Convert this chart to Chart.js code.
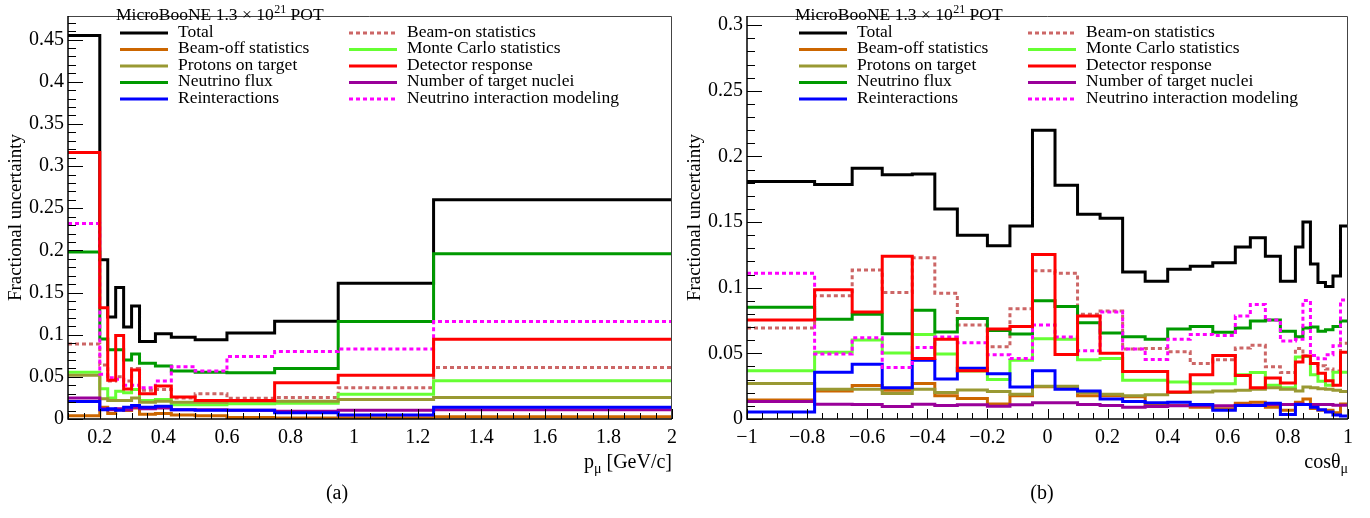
<!DOCTYPE html>
<html>
<head>
<meta charset="utf-8">
<title>Fractional uncertainties</title>
<script src="https://cdn.jsdelivr.net/npm/chart.js@4.4.1/dist/chart.umd.min.js"></script>
<style>
  body { margin: 0; background: #fff; }
  .panel { position: absolute; top: 0; width: 685px; height: 518px; }
  #panelA { left: 0; }
  #panelB { left: 685px; }
</style>
</head>
<body>
<div class="panel" id="panelA"><canvas id="chartA" width="685" height="518"></canvas></div>
<div class="panel" id="panelB"><canvas id="chartB" width="685" height="518"></canvas></div>
<script>
const FONT = '"Liberation Serif", "Times New Roman", serif';

// muon momentum bins (GeV/c)
const pEdges = [0.1, 0.2, 0.225, 0.25, 0.275, 0.3, 0.325, 0.375, 0.425, 0.5, 0.6, 0.75, 0.95, 1.25, 2];
const pTotal    = [0.455, 0.189, 0.121, 0.156, 0.109, 0.134, 0.092, 0.101, 0.097, 0.094, 0.102, 0.116, 0.161, 0.260];
const pBeamOn   = [0.089, 0.064, 0.045, 0.050, 0.045, 0.060, 0.034, 0.035, 0.025, 0.030, 0.0245, 0.0256, 0.037, 0.061];
const pBeamOff  = [0.004, 0.014, 0.0065, 0.011, 0.010, 0.013, 0.0057, 0.0065, 0.0046, 0.0038, 0.0019, 0.0011, 0.0015, 0.0027];
const pMcStat   = [0.0555, 0.036, 0.025, 0.033, 0.031, 0.035, 0.022, 0.023, 0.017, 0.017, 0.018, 0.0188, 0.0295, 0.0455];
const pPot      = [0.052, 0.024, 0.022, 0.022, 0.022, 0.025, 0.020, 0.021, 0.020, 0.020, 0.021, 0.021, 0.023, 0.0256];
const pDetector = [0.316, 0.132, 0.046, 0.099, 0.0356, 0.058, 0.030, 0.039, 0.026, 0.022, 0.022, 0.043, 0.052, 0.0945];
const pFlux     = [0.198, 0.095, 0.082, 0.082, 0.070, 0.077, 0.066, 0.063, 0.057, 0.0555, 0.055, 0.060, 0.1156, 0.196];
const pNuclei   = [0.0249, 0.0122, 0.011, 0.0122, 0.011, 0.014, 0.0122, 0.013, 0.011, 0.0111, 0.0103, 0.0092, 0.0103, 0.011];
const pReint    = [0.0207, 0.011, 0.0122, 0.0103, 0.014, 0.016, 0.014, 0.015, 0.011, 0.0103, 0.0103, 0.0073, 0.0046, 0.0138];
const pModeling = [0.232, 0.053, 0.049, 0.047, 0.040, 0.040, 0.037, 0.045, 0.062, 0.057, 0.074, 0.080, 0.083, 0.1155];

// cos(theta_mu) bins
const cEdges = [-1, -0.775, -0.65, -0.55, -0.45, -0.375, -0.3, -0.2, -0.125, -0.05, 0.025, 0.1, 0.175, 0.25, 0.325,
                0.4, 0.475, 0.55, 0.625, 0.675, 0.725, 0.775, 0.825, 0.85, 0.875, 0.9, 0.925, 0.95, 0.975, 1];
const cTotal    = [0.181, 0.1786, 0.191, 0.186, 0.1867, 0.160, 0.140, 0.132, 0.147, 0.220, 0.178, 0.156, 0.153, 0.112, 0.105,
                   0.114, 0.1164, 0.119, 0.131, 0.138, 0.124, 0.105, 0.131, 0.150, 0.118, 0.104, 0.101, 0.109, 0.147];
const cBeamOn   = [0.0693, 0.0938, 0.1135, 0.0963, 0.1228, 0.0958, 0.0717, 0.055, 0.084, 0.113, 0.111, 0.0798, 0.0823, 0.0533, 0.0538,
                   0.0513, 0.0423, 0.0452, 0.054, 0.0562, 0.0398, 0.0354, 0.0538, 0.048, 0.0423, 0.0405, 0.038, 0.0366, 0.0577];
const cBeamOff  = [0.0145, 0.0214, 0.0255, 0.0219, 0.027, 0.0177, 0.0157, 0.0115, 0.0177, 0.0246, 0.0246, 0.0177, 0.0177, 0.017, 0.011,
                   0.0103, 0.009, 0.0079, 0.012, 0.0128, 0.009, 0.0066, 0.0128, 0.0152, 0.008, 0.0066, 0.0066, 0.0047, 0.0115];
const cMcStat   = [0.0368, 0.0508, 0.0602, 0.0503, 0.0644, 0.0496, 0.0366, 0.030, 0.0447, 0.0612, 0.0607, 0.0452, 0.046, 0.0295, 0.0295,
                   0.0282, 0.0268, 0.0268, 0.0337, 0.0354, 0.0258, 0.0238, 0.0472, 0.0477, 0.0337, 0.0287, 0.0258, 0.0356, 0.0356];
const cPot      = [0.027, 0.0226, 0.0226, 0.0194, 0.0226, 0.0201, 0.0221, 0.0209, 0.0189, 0.025, 0.025, 0.0201, 0.0189, 0.0177, 0.0184,
                   0.0201, 0.0206, 0.0214, 0.0219, 0.0226, 0.0238, 0.0226, 0.0214, 0.0243, 0.0238, 0.0231, 0.0226, 0.0219, 0.0209];
const cDetector = [0.0754, 0.0985, 0.0816, 0.124, 0.046, 0.0607, 0.0368, 0.0685, 0.0705, 0.1253, 0.0491, 0.0785, 0.0501, 0.0361, 0.0361,
                   0.0206, 0.0337, 0.0484, 0.0332, 0.0238, 0.0312, 0.0275, 0.0435, 0.048, 0.0422, 0.0349, 0.0292, 0.0258, 0.0508];
const cFlux     = [0.0852, 0.0759, 0.0798, 0.065, 0.0828, 0.0663, 0.0766, 0.0675, 0.0648, 0.090, 0.0857, 0.0734, 0.0656, 0.0626, 0.0607,
                   0.0685, 0.0705, 0.066, 0.0693, 0.0747, 0.0754, 0.0668, 0.0626, 0.0693, 0.070, 0.0668, 0.068, 0.0705, 0.0747];
const cNuclei   = [0.0133, 0.0113, 0.011, 0.0096, 0.0113, 0.0103, 0.0108, 0.0098, 0.0108, 0.0123, 0.0123, 0.011, 0.0103, 0.009, 0.0095,
                   0.010, 0.010, 0.010, 0.0105, 0.0105, 0.011, 0.011, 0.0115, 0.011, 0.011, 0.011, 0.011, 0.0105, 0.0105];
const cReint    = [0.0054, 0.0356, 0.0418, 0.0238, 0.0447, 0.0305, 0.0386, 0.0344, 0.0243, 0.0368, 0.0226, 0.0214, 0.0152, 0.0133, 0.0123,
                   0.0128, 0.011, 0.0066, 0.0103, 0.0103, 0.012, 0.0034, 0.011, 0.011, 0.009, 0.007, 0.0054, 0.003, 0.0022];
const cModeling = [0.111, 0.0496, 0.0619, 0.0393, 0.0545, 0.0624, 0.058, 0.049, 0.046, 0.0717, 0.0624, 0.052, 0.0816, 0.0533, 0.0454,
                   0.0607, 0.0644, 0.0636, 0.0784, 0.0872, 0.0754, 0.0594, 0.0607, 0.0902, 0.0484, 0.0459, 0.049, 0.0558, 0.0906];

// legend order (two columns, filled row by row); z = drawing rank, higher on top
const sources = [
  { label: 'Total',                         color: '#000000', z: 0 },
  { label: 'Beam-on statistics',            color: '#cc6666', z: 1, dash: [4, 3] },
  { label: 'Beam-off statistics',           color: '#cc6600', z: 2 },
  { label: 'Monte Carlo statistics',        color: '#66ff33', z: 3 },
  { label: 'Protons on target',             color: '#999933', z: 4 },
  { label: 'Detector response',             color: '#ff0000', z: 9 },
  { label: 'Neutrino flux',                 color: '#009900', z: 5 },
  { label: 'Number of target nuclei',       color: '#990099', z: 6 },
  { label: 'Reinteractions',                color: '#0000ff', z: 7 },
  { label: 'Neutrino interaction modeling', color: '#ff00ff', z: 8, dash: [4, 3] }
];

// bin contents -> step points (last edge repeats the last value)
function histPoints(edges, vals) {
  const pts = vals.map((v, i) => ({ x: edges[i], y: v }));
  pts.push({ x: edges[edges.length - 1], y: vals[vals.length - 1] });
  return pts;
}

function makeDatasets(edges, valueSets) {
  return sources.map((s, i) => ({
    label: s.label,
    data: histPoints(edges, valueSets[i]),
    stepped: true,
    borderColor: s.color,
    borderWidth: 3,
    borderDash: s.dash || [],
    borderJoinStyle: 'miter',
    pointRadius: 0,
    fill: false,
    order: 20 - s.z
  }));
}

function tickLabel(v) {
  return String(+v.toFixed(3)).replace('-', '\u2212');
}

// ROOT-style frame: inward ticks, legend box, axis title with subscript, caption
const rootFrame = {
  id: 'rootFrame',
  afterDraw(chart, args, o) {
    const ctx = chart.ctx;
    const a = chart.chartArea;
    const xs = chart.scales.x, ys = chart.scales.y;
    ctx.save();

    // frame
    ctx.setLineDash([]);
    ctx.strokeStyle = '#444';
    ctx.lineWidth = 1;
    ctx.beginPath();
    ctx.moveTo(a.left, a.top + 0.5); ctx.lineTo(a.right - 0.5, a.top + 0.5); ctx.lineTo(a.right - 0.5, a.bottom);
    ctx.stroke();
    ctx.strokeStyle = '#000';
    ctx.lineWidth = 1.5;
    ctx.beginPath();
    ctx.moveTo(a.left, a.top); ctx.lineTo(a.left, a.bottom); ctx.lineTo(a.right, a.bottom);
    ctx.stroke();

    // ticks
    const ticks = (scale, step, len, horizontal) => {
      const k0 = Math.ceil(scale.min / step - 1e-6), k1 = Math.floor(scale.max / step + 1e-6);
      for (let k = k0; k <= k1; k++) {
        const p = Math.round(scale.getPixelForValue(k * step)) + 0.5;
        if (horizontal) { ctx.moveTo(p, a.bottom); ctx.lineTo(p, a.bottom - len); }
        else { ctx.moveTo(a.left, p); ctx.lineTo(a.left + len, p); }
      }
    };
    ctx.lineWidth = 1;
    ctx.beginPath();
    ticks(xs, o.xMajor, 10, true);
    ticks(xs, o.xMajor / 4, 6, true);
    ticks(ys, o.yMajor, 15, false);
    ticks(ys, o.yMajor / 5, 8, false);
    ctx.stroke();

    ctx.fillStyle = '#000';
    ctx.textBaseline = 'middle';
    ctx.textAlign = 'left';

    // legend header
    let x = a.left + 48;
    const hy = 15;
    ctx.font = '17.5px ' + FONT;
    const head = 'MicroBooNE 1.3 \u00d7 10';
    ctx.fillText(head, x, hy);
    x += ctx.measureText(head).width + 0.5;
    ctx.font = '12px ' + FONT;
    ctx.fillText('21', x, hy - 5);
    x += ctx.measureText('21').width;
    ctx.font = '17.5px ' + FONT;
    ctx.fillText(' POT', x, hy);

    // legend entries
    chart.data.datasets.forEach((ds, i) => {
      const col = i % 2, row = Math.floor(i / 2);
      const y = 32 + row * 16.5;
      const lx = a.left + (col ? 281 : 52);
      ctx.strokeStyle = ds.borderColor;
      ctx.lineWidth = 3;
      ctx.setLineDash(ds.borderDash);
      ctx.beginPath();
      ctx.moveTo(lx, y + 1); ctx.lineTo(lx + 48, y + 1);
      ctx.stroke();
      ctx.fillText(ds.label, lx + 58, y);
    });
    ctx.setLineDash([]);

    // x-axis title: main text, subscript, rest
    const [main, sub, rest] = o.xTitle;
    ctx.font = '20px ' + FONT;
    const wMain = ctx.measureText(main).width, wRest = ctx.measureText(rest).width;
    ctx.font = '14px ' + FONT;
    const wSub = ctx.measureText(sub).width;
    const ty = 462;
    let tx = a.right - (wMain + wSub + wRest);
    ctx.textBaseline = 'alphabetic';
    ctx.font = '20px ' + FONT;
    ctx.fillText(main, tx, ty + 6);
    tx += wMain;
    ctx.font = '14px ' + FONT;
    ctx.fillText(sub, tx, ty + 11);
    tx += wSub;
    ctx.font = '20px ' + FONT;
    ctx.fillText(rest, tx, ty + 6);

    // caption
    ctx.textAlign = 'center';
    ctx.textBaseline = 'middle';
    ctx.font = '20px ' + FONT;
    ctx.fillText(o.caption, o.captionX, 494);
    ctx.restore();
  }
};

function makeChart(id, edges, valueSets, cfg) {
  const tickFont = { family: FONT, size: 20 };
  return new Chart(document.getElementById(id), {
    type: 'line',
    data: { datasets: makeDatasets(edges, valueSets) },
    plugins: [rootFrame],
    options: {
      responsive: false,
      animation: false,
      devicePixelRatio: 1,
      layout: { padding: { top: 2, right: cfg.padRight, left: 0, bottom: 0 } },
      plugins: {
        legend: { display: false },
        tooltip: { enabled: false },
        rootFrame: { xTitle: cfg.xTitle, caption: cfg.caption, captionX: cfg.captionX, xMajor: 0.2, yMajor: 0.05 }
      },
      scales: {
        x: {
          type: 'linear',
          min: edges[0],
          max: edges[edges.length - 1],
          grid: { display: false, drawTicks: false },
          border: { display: false },
          ticks: {
            stepSize: 0.2, includeBounds: false, autoSkip: false, maxRotation: 0, maxTicksLimit: 20,
            padding: 7, color: '#000', font: tickFont, callback: tickLabel
          },
          afterFit(s) { s.height = 99; }
        },
        y: {
          type: 'linear',
          min: 0,
          max: cfg.yMax,
          grid: { display: false, drawTicks: false },
          border: { display: false },
          ticks: {
            stepSize: 0.05, includeBounds: false, autoSkip: false, maxTicksLimit: 20,
            padding: 4, color: '#000', font: tickFont, callback: tickLabel
          },
          title: {
            display: true,
            text: 'Fractional uncertainty',
            color: '#000',
            font: { family: FONT, size: 19, lineHeight: 1 },
            padding: { top: cfg.titlePad, bottom: 0 }
          },
          afterFit(s) { s.width = cfg.yWidth; }
        }
      }
    }
  });
}

makeChart('chartA', pEdges,
  [pTotal, pBeamOn, pBeamOff, pMcStat, pPot, pDetector, pFlux, pNuclei, pReint, pModeling],
  { padRight: 13, yWidth: 68, yMax: 0.478, titlePad: 6.5, xTitle: ['p', '\u03bc', ' [GeV/c]'], caption: '(a)', captionX: 337 });

makeChart('chartB', cEdges,
  [cTotal, cBeamOn, cBeamOff, cMcStat, cPot, cDetector, cFlux, cNuclei, cReint, cModeling],
  { padRight: 22, yWidth: 62, yMax: 0.307, titlePad: 0.5, xTitle: ['cos\u03b8', '\u03bc', ''], caption: '(b)', captionX: 357 });
</script>
</body>
</html>
